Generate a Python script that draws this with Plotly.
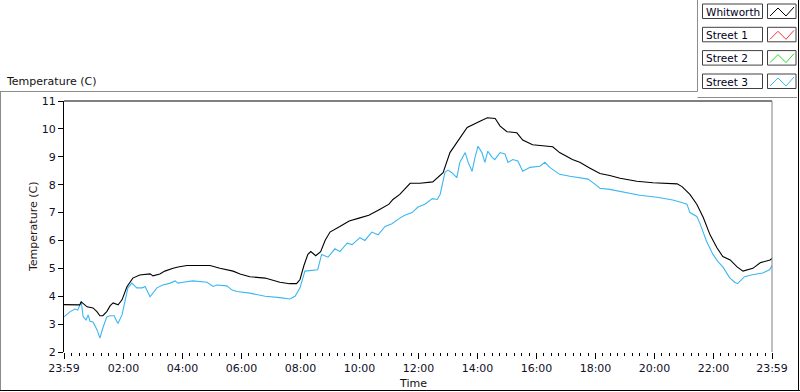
import plotly.graph_objects as go

# ---------------- data ----------------
series_names = ["Whitworth", "Street 1", "Street 2", "Street 3"]
series_colors = ["#000000", "#ff3030", "#20e020", "#3cb6f2"]

whitworth_times = ["23:59", "00:31", "00:34", "00:46", "00:58", "01:06", "01:12", "01:18", "01:26",
                   "01:33", "01:39", "01:49", "01:57", "02:07", "02:19", "02:33", "02:54", "03:00",
                   "03:14", "03:24", "03:41", "03:51", "04:09", "04:56", "05:16", "05:43", "05:57",
                   "06:17", "06:48", "07:18", "07:38", "07:52", "07:59", "08:07", "08:15", "08:21",
                   "08:31", "08:41", "08:50", "09:00", "09:20", "09:39", "09:59", "10:19", "10:40",
                   "11:00", "11:08", "11:22", "11:43", "12:03", "12:29", "12:50", "13:04", "13:18",
                   "13:39", "14:05", "14:20", "14:36", "14:46", "15:00", "15:20", "15:32", "15:52",
                   "16:33", "16:47", "17:13", "17:28", "17:48", "18:09", "18:29", "18:50", "19:24",
                   "19:57", "20:46", "20:56", "21:12", "21:26", "21:39", "21:53", "22:07", "22:19",
                   "22:34", "22:48", "23:00", "23:20", "23:35", "23:55", "23:59"]
whitworth_vals = [3.7, 3.69, 3.8, 3.62, 3.58, 3.45, 3.3, 3.3, 3.45,
                  3.66, 3.76, 3.69, 3.87, 4.34, 4.65, 4.76, 4.8, 4.73,
                  4.8, 4.9, 5.0, 5.05, 5.1, 5.1, 5.0, 4.9, 4.8,
                  4.7, 4.65, 4.5, 4.45, 4.45, 4.6, 5.1, 5.5, 5.6,
                  5.45, 5.6, 6.0, 6.3, 6.5, 6.7, 6.8, 6.9, 7.1,
                  7.3, 7.47, 7.65, 8.05, 8.05, 8.1, 8.43, 9.15, 9.5,
                  10.05, 10.27, 10.4, 10.37, 10.1, 9.9, 9.86, 9.6, 9.43,
                  9.36, 9.15, 8.9, 8.8, 8.6, 8.4, 8.33, 8.23, 8.12,
                  8.07, 8.03, 7.93, 7.65, 7.3, 6.83, 6.2, 5.74, 5.42,
                  5.3, 5.05, 4.9, 5.0, 5.2, 5.3, 5.35]

street3_times = ["23:59", "00:11", "00:21", "00:27", "00:34", "00:38", "00:44", "00:48", "00:52",
                 "00:58", "01:06", "01:12", "01:18", "01:26", "01:33", "01:41", "01:47", "01:49",
                 "01:57", "02:03", "02:09", "02:17", "02:27", "02:38", "02:44", "02:54", "03:00",
                 "03:08", "03:20", "03:35", "03:45", "03:51", "04:01", "04:21", "04:50", "05:02",
                 "05:10", "05:30", "05:41", "05:51", "06:17", "06:48", "07:18", "07:38", "07:49",
                 "07:59", "08:09", "08:35", "08:43", "08:56", "09:10", "09:20", "09:35", "09:45",
                 "10:01", "10:11", "10:25", "10:38", "10:52", "11:06", "11:22", "11:32", "11:47",
                 "11:59", "12:13", "12:28", "12:38", "12:44", "12:54", "13:00", "13:08", "13:18",
                 "13:24", "13:35", "13:41", "13:49", "13:55", "14:01", "14:09", "14:15", "14:21",
                 "14:29", "14:35", "14:46", "14:56", "15:02", "15:12", "15:22", "15:32", "15:47",
                 "16:07", "16:17", "16:27", "16:37", "16:47", "17:08", "17:28", "17:45", "18:00",
                 "18:09", "18:29", "18:50", "19:30", "20:05", "20:37", "20:55", "21:06", "21:12",
                 "21:26", "21:32", "21:42", "21:46", "21:59", "22:09", "22:19", "22:27", "22:33",
                 "22:43", "22:49", "23:03", "23:19", "23:40", "23:54", "23:59"]
street3_vals = [3.26, 3.44, 3.54, 3.5, 3.8, 3.26, 3.15, 3.33, 3.1,
                3.08, 2.8, 2.5, 2.86, 3.26, 3.3, 3.3, 3.08, 3.03,
                3.33, 3.87, 4.3, 4.47, 4.3, 4.3, 4.35, 3.98, 4.11,
                4.3, 4.4, 4.47, 4.55, 4.47, 4.5, 4.55, 4.5, 4.35,
                4.4, 4.37, 4.22, 4.17, 4.11, 4.0, 3.95, 3.9, 4.0,
                4.3, 4.9, 4.95, 5.5, 5.4, 5.7, 5.6, 5.9, 5.85,
                6.1, 6.0, 6.3, 6.2, 6.5, 6.6, 6.8, 6.9, 7.0,
                7.2, 7.3, 7.5, 7.47, 7.65, 8.45, 8.52, 8.43, 8.25,
                8.8, 9.15, 8.8, 8.48, 8.98, 9.38, 9.15, 8.8, 9.2,
                9.0, 8.9, 9.15, 9.1, 8.8, 8.9, 8.85, 8.48, 8.62,
                8.66, 8.8, 8.62, 8.48, 8.37, 8.3, 8.26, 8.2, 8.0,
                7.87, 7.83, 7.76, 7.62, 7.55, 7.45, 7.36, 7.3, 7.0,
                6.86, 6.63, 6.2, 5.96, 5.5, 5.24, 5.05, 4.83, 4.66,
                4.5, 4.45, 4.7, 4.77, 4.83, 4.95, 5.1]

x_tick_labels = ["23:59", "02:00", "04:00", "06:00", "08:00", "10:00", "12:00",
                 "14:00", "16:00", "18:00", "20:00", "22:00", "23:59"]
y_range = [2, 11]


def to_hours(times):
    out = []
    for i, t in enumerate(times):
        hh, mm = t.split(":")
        h = int(hh) + int(mm) / 60.0
        if i == 0 and h > 23.5:
            h -= 24.0
        out.append(h)
    return out


x_tick_vals = to_hours(x_tick_labels)
x_start, x_end = x_tick_vals[0], x_tick_vals[-1]

# ---------------- layout geometry (pixels) ----------------
W, H = 800, 392
L, R, T, B = 64, 800 - 772, 101, 40
PW, PH = W - L - R, H - T - B


def px(x):
    return (x - L) / PW


def py(y):
    return (H - B - y) / PH


FONT = "DejaVu Sans"

fig = go.Figure()
fig.add_trace(go.Scatter(x=to_hours(street3_times), y=street3_vals, mode="lines",
                         line=dict(color=series_colors[3], width=1.1),
                         name=series_names[3], showlegend=False, hoverinfo="skip"))
fig.add_trace(go.Scatter(x=to_hours(whitworth_times), y=whitworth_vals, mode="lines",
                         line=dict(color=series_colors[0], width=1.1),
                         name=series_names[0], showlegend=False, hoverinfo="skip"))

shapes = []
annotations = []

# plot frame: top black, right gray
shapes.append(dict(type="line", xref="paper", yref="paper", x0=0, x1=1, y0=1, y1=1,
                   line=dict(color="black", width=1)))
shapes.append(dict(type="line", xref="paper", yref="paper", x0=1, x1=1, y0=0, y1=1,
                   line=dict(color="#808080", width=1)))

# outer panel borders
gray = "#8c8c8c"
shapes.append(dict(type="line", xref="paper", yref="paper", x0=px(0), x1=px(697.5), y0=py(91.5), y1=py(91.5),
                   line=dict(color=gray, width=1)))
shapes.append(dict(type="line", xref="paper", yref="paper", x0=px(697.5), x1=px(697.5), y0=py(0), y1=py(91.5),
                   line=dict(color=gray, width=1)))
shapes.append(dict(type="line", xref="paper", yref="paper", x0=px(697.5), x1=px(797), y0=py(97.5), y1=py(97.5),
                   line=dict(color=gray, width=1)))
shapes.append(dict(type="line", xref="paper", yref="paper", x0=px(0.5), x1=px(0.5), y0=py(91.5), y1=py(390),
                   line=dict(color=gray, width=1)))
shapes.append(dict(type="line", xref="paper", yref="paper", x0=px(0), x1=px(800), y0=py(390.5), y1=py(390.5),
                   line=dict(color="black", width=1)))
shapes.append(dict(type="line", xref="paper", yref="paper", x0=px(798.5), x1=px(798.5), y0=py(0), y1=py(390.5),
                   line=dict(color="black", width=1)))

# custom legend
box_tops = [4, 27.3, 50.6, 74]
for name, col, top in zip(series_names, series_colors, box_tops):
    bot = top + 14.5
    shapes.append(dict(type="rect", xref="paper", yref="paper",
                       x0=px(702.5), x1=px(762.5), y0=py(bot), y1=py(top),
                       line=dict(color="#404040", width=1), fillcolor="white"))
    shapes.append(dict(type="rect", xref="paper", yref="paper",
                       x0=px(767.5), x1=px(796), y0=py(bot), y1=py(top),
                       line=dict(color="#404040", width=1), fillcolor="white"))
    pts = [(770, top + 12), (778, top + 4), (786, top + 12), (794, top + 3)]
    path = "M " + " L ".join(f"{px(a):.5f},{py(b):.5f}" for a, b in pts)
    shapes.append(dict(type="path", xref="paper", yref="paper", path=path,
                       line=dict(color=col, width=1)))
    annotations.append(dict(text=name, xref="paper", yref="paper", x=px(703.5), y=py(top + 7.5),
                            xanchor="left", yanchor="middle", showarrow=False,
                            font=dict(family=FONT, size=10.5, color="#000020")))

# labels
annotations.append(dict(text="Temperature (C)", xref="paper", yref="paper", x=px(4), y=py(81),
                        xanchor="left", yanchor="middle", showarrow=False,
                        font=dict(family=FONT, size=11, color="#111111")))
annotations.append(dict(text="Temperature (C)", xref="paper", yref="paper", x=px(33), y=py(227),
                        xanchor="center", yanchor="middle", showarrow=False, textangle=-90,
                        font=dict(family=FONT, size=11, color="#2a1414")))
annotations.append(dict(text="Time", xref="paper", yref="paper", x=px(413), y=py(383.5),
                        xanchor="center", yanchor="middle", showarrow=False,
                        font=dict(family=FONT, size=11, color="#111111")))

fig.update_layout(
    width=W, height=H,
    margin=dict(l=L, r=R, t=T, b=B, pad=0),
    paper_bgcolor="white", plot_bgcolor="white",
    shapes=shapes, annotations=annotations,
    showlegend=False,
    xaxis=dict(range=[x_start, x_end], tickmode="array", tickvals=x_tick_vals, ticktext=x_tick_labels,
               ticks="outside", ticklen=6, tickwidth=1, tickcolor="black",
               minor=dict(tick0=0, dtick=0.25, ticks="outside", ticklen=3, tickcolor="black", showgrid=False),
               showgrid=False, zeroline=False, showline=False,
               tickfont=dict(family=FONT, size=11, color="#101028")),
    yaxis=dict(range=y_range, dtick=1, tick0=2, ticks="outside", ticklen=5, tickcolor="black",
               showgrid=False, zeroline=False, showline=True, linecolor="black", linewidth=1,
               tickfont=dict(family=FONT, size=11, color="#101028")),
)

fig.write_html("out.html", config={"displayModeBar": False},
               post_script="document.body.style.margin='0';document.body.style.padding='0';")
